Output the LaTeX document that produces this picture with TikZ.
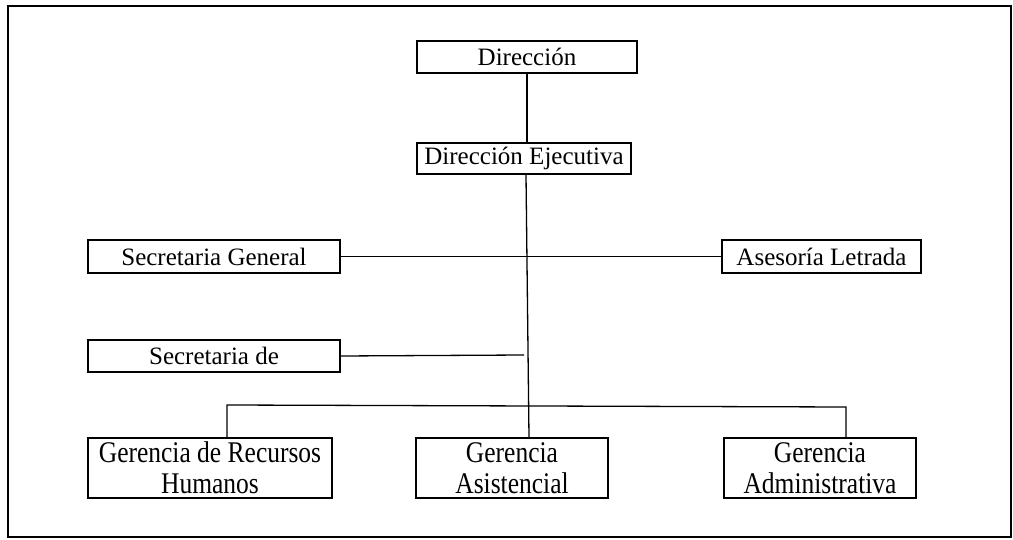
\documentclass[tikz,border=0pt]{standalone}
\usepackage{fontspec}
\setmainfont{Liberation Serif}
\newfontfamily\condfont[FakeStretch=0.85]{Liberation Serif}
\usetikzlibrary{calc}
\tikzset{
  box/.style={draw, line width=1.8pt, inner sep=0pt, align=center, font=\fontsize{25}{28}\selectfont},
  gbox/.style={draw, line width=1.8pt, inner sep=0pt, align=center, font=\condfont\fontsize{30}{31}\selectfont},
  conn/.style={line width=1.3pt}
}
\begin{document}
\begin{tikzpicture}[x=1pt,y=-1pt]
\useasboundingbox (0,0) rectangle (1013,540);
\draw[line width=2pt] (8,6) rectangle (1011,537);
\node[box, minimum width=220pt, minimum height=32pt] (dir) at (527,57) {Dirección};
\node[box, minimum width=214pt, minimum height=31pt] (de) at (524,158.5) {Dirección Ejecutiva};
\node[box, minimum width=252pt, minimum height=33pt] (sg) at (214,256.5) {Secretaria General};
\node[box, minimum width=199pt, minimum height=33pt] (al) at (821.5,256.5) {Asesoría Letrada};
\node[box, minimum width=252pt, minimum height=32pt] (sd) at (214,356) {Secretaria de};
\node[gbox, minimum width=244pt, minimum height=60pt] (grh) at (210,468) {Gerencia de Recursos\\Humanos};
\node[gbox, minimum width=192pt, minimum height=60pt] (ga) at (512,468) {Gerencia\\Asistencial};
\node[gbox, minimum width=192pt, minimum height=60pt] (gad) at (820,468) {Gerencia\\Administrativa};
\coordinate (sdend) at (524,355);
\coordinate (busl) at (227,405);
\coordinate (busr) at (846,407);
\draw[conn] (dir.south) -- (dir.south |- de.north);
\draw[conn] ($(de.south)+(2,0)$) -- ($(ga.north)+(17,0)$);
\draw[conn] (sg.east) -- (al.west);
\draw[conn] (sd.east) -- (sdend);
\draw[conn] (grh.north -| busl) -- (busl) -- (busr) -- (gad.north -| busr);
\end{tikzpicture}
\end{document}
